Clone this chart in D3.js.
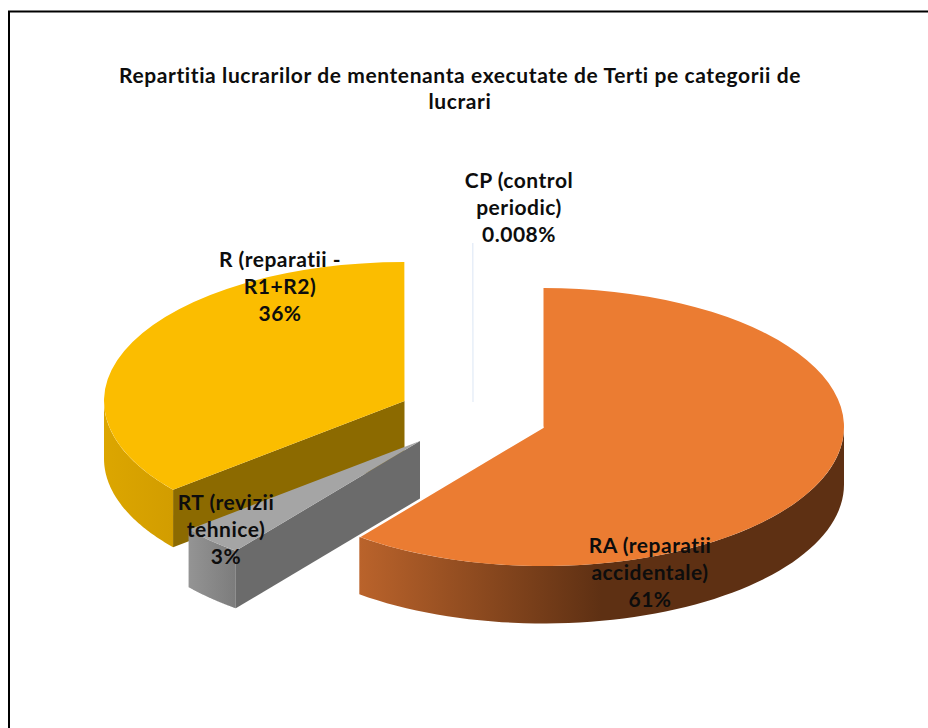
<!DOCTYPE html>
<html><head><meta charset="utf-8">
<style>html,body{margin:0;padding:0;background:#fff}svg{display:block}
text{font-family:Lato,"Open Sans",sans-serif;font-weight:700;fill:#0d0d0d;text-anchor:middle;letter-spacing:.5px;font-variant-ligatures:none}
text.title{letter-spacing:.6px}</style>
<script src="https://cdnjs.cloudflare.com/ajax/libs/d3/7.8.5/d3.min.js"></script>
</head><body><svg id="c" width="928" height="728"></svg>
<script>
const titleLines = ["Repartitia lucrarilor de mentenanta executate de Terti pe categorii de", "lucrari"];
const categories = ["RA (reparatii accidentale)", "RT (revizii tehnice)", "R (reparatii - R1+R2)", "CP (control periodic)"];
const values = [60.5, 3.49, 36.002, 0.008];
const percentLabels = ["61%", "3%", "36%", "0.008%"];
const labelLines = [["RA (reparatii", "accidentale)"], ["RT (revizii", "tehnice)"], ["R (reparatii -", "R1+R2)"], ["CP (control", "periodic)"]];

// layout (exploded slice centres, label anchors, colours) kept apart from the data
const RX = 300.5, RY = 139, DEPTH = 57.5;
const centres = [[543.5, 427], [420, 441], [404.5, 401], [473, 382]];
const wallHeights = [DEPTH, DEPTH, DEPTH, 20];
const labelPos = [[650, 553], [226, 510], [280, 267], [519, 188]];
const topColors = ["#EB7C32", "#A5A5A5", "#FBBD00", "#DCE6F4"];
const cutColors = ["#5E3013", "#6B6B6B", "#8C6A00", "#DCE6F4"];
const wallStops = [
  [[0, "#BA632B"], [0.5, "#5E3013"], [1, "#5E3013"]],
  [[0, "#949494"], [1, "#7C7C7C"]],
  [[0, "#DCA600"], [1, "#D29D00"]],
  [[0, "#DCE6F4"], [1, "#DCE6F4"]]
];
const LINE = 26.8;

const svg = d3.select("#c");
const defs = svg.append("defs");

svg.append("path").attr("d", "M9 728V11.5H928").attr("fill", "none").attr("stroke", "#000").attr("stroke-width", 2);

svg.selectAll("text.title").data(titleLines).join("text").attr("class", "title")
  .attr("x", 460).attr("y", (d, i) => 83 + i * 25.5).attr("font-size", 21).text(d => d);

const pie = d3.pie().sort(null).value(d => d)(values);
const arc = d3.arc().innerRadius(0).outerRadius(RX);
const px = (c, a) => c[0] + RX * Math.sin(a);
const py = (c, a, h = 0) => c[1] - RY * Math.cos(a) + h;
const line = d3.line();

function outerWall(c, a0, a1, h) {
  const s = Math.max(a0, Math.PI / 2), e = Math.min(a1, Math.PI * 1.5);
  if (e <= s) return null;
  const as = d3.range(0, 61).map(i => s + (e - s) * i / 60);
  const up = as.map(a => [px(c, a), py(c, a)]);
  const dn = as.slice().reverse().map(a => [px(c, a), py(c, a, h)]);
  return line(up.concat(dn)) + "Z";
}
function cutWall(c, a, h) {
  return line([[c[0], c[1]], [px(c, a), py(c, a)], [px(c, a), py(c, a, h)], [c[0], c[1] + h]]) + "Z";
}

// back to front drawing order
[2, 1, 0, 3].forEach(i => {
  const s = pie[i], c = centres[i], h = wallHeights[i];
  const g = svg.append("g").attr("class", "slice");
  const grad = defs.append("linearGradient").attr("id", "w" + i);
  grad.selectAll("stop").data(wallStops[i]).join("stop")
    .attr("offset", d => d[0]).attr("stop-color", d => d[1]);
  // radial faces: visible when their outward normal points to the viewer
  if (-Math.cos(s.startAngle - Math.PI / 2) > 1e-6)
    g.append("path").attr("d", cutWall(c, s.startAngle, h)).attr("fill", cutColors[i]);
  if (-Math.cos(s.endAngle + Math.PI / 2) > 1e-6)
    g.append("path").attr("d", cutWall(c, s.endAngle, h)).attr("fill", cutColors[i]);
  const w = outerWall(c, s.startAngle, s.endAngle, h);
  if (w) g.append("path").attr("d", w).attr("fill", `url(#w${i})`);
  g.append("path").attr("d", arc(s))
    .attr("transform", `translate(${c[0]},${c[1]}) scale(1,${RY / RX})`)
    .attr("fill", topColors[i]);
  if (i === 3) {
    g.append("path").attr("d", line([[px(c, s.startAngle), py(c, s.startAngle)], [c[0], c[1] + h]]))
      .attr("stroke", topColors[i]).attr("stroke-width", 1).attr("fill", "none");
  }
  if (i === 0) {
    g.append("path").attr("d", line([[c[0], c[1]], [px(c, s.endAngle), py(c, s.endAngle)]]))
      .attr("stroke", "#fff").attr("stroke-width", 1.5).attr("fill", "none");
  }
});

categories.forEach((cat, i) => {
  const lines = labelLines[i].concat(percentLabels[i]);
  svg.append("g").attr("class", "label").selectAll("text").data(lines).join("text")
    .attr("x", labelPos[i][0]).attr("y", (d, k) => labelPos[i][1] + k * LINE)
    .attr("font-size", 21).text(d => d);
});
</script></body></html>
